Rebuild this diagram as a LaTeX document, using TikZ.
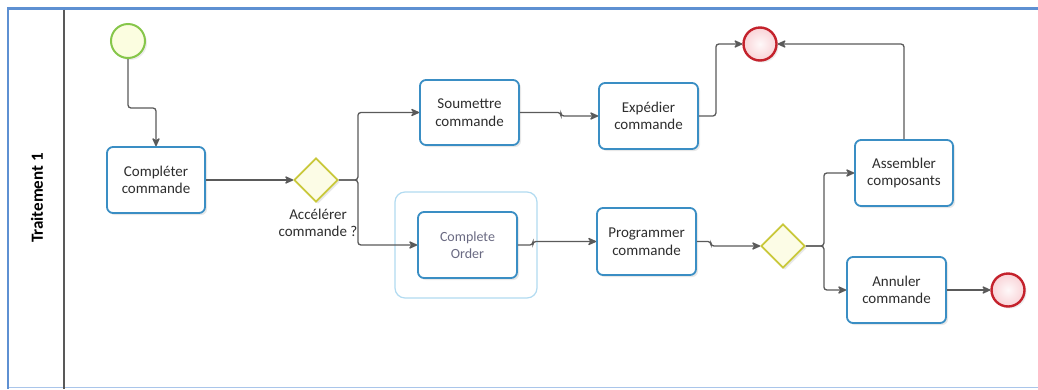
\documentclass[tikz,border=0pt]{standalone}
\usepackage{fontspec}
\setmainfont{Carlito}
\usetikzlibrary{shapes.geometric,arrows.meta,shadows}

\definecolor{taskblue}{HTML}{3A8EC4}
\definecolor{groupblue}{HTML}{B2DBF1}
\definecolor{gwline}{HTML}{C9C83A}
\definecolor{gwfill}{HTML}{FCFCE6}
\definecolor{startline}{HTML}{86C64A}
\definecolor{startfill}{HTML}{FBFDE0}
\definecolor{endline}{HTML}{C4222C}
\definecolor{endfill}{HTML}{F9D3D7}
\definecolor{flowgray}{HTML}{5A5A5A}
\definecolor{poolblue}{HTML}{5E90D2}
\definecolor{poolbottom}{HTML}{A9C5EA}
\definecolor{textgray}{HTML}{2E2E2E}
\definecolor{ordertext}{HTML}{6A6A82}

\tikzset{
  task/.style={draw=taskblue, line width=1.8pt, fill=white, rounded corners=6pt,
    minimum width=99pt, minimum height=66pt, align=center, text=textgray,
    font=\fontsize{15}{17.5}\selectfont,
    drop shadow={opacity=0.18, shadow xshift=2pt, shadow yshift=-2pt}},
  gateway/.style={diamond, draw=gwline, line width=1.8pt, fill=gwfill,
    minimum width=44pt, minimum height=44pt, inner sep=0pt,
    drop shadow={opacity=0.18, shadow xshift=2pt, shadow yshift=-2pt}},
  startev/.style={circle, draw=startline, line width=2pt, fill=startfill,
    minimum size=34pt, inner sep=0pt,
    drop shadow={opacity=0.15, shadow xshift=2pt, shadow yshift=-2pt}},
  endev/.style={circle, draw=endline, line width=2.4pt,
    inner color=white!85!endfill, outer color=endfill,
    minimum size=33pt, inner sep=0pt,
    drop shadow={opacity=0.15, shadow xshift=2pt, shadow yshift=-2pt}},
  grouped/.style={draw=groupblue, line width=1.2pt, rounded corners=10pt,
    minimum width=142pt, minimum height=106pt},
  flow/.style={draw=flowgray, line width=1.3pt, rounded corners=3pt,
    -{Stealth[length=10pt,width=9pt,round]}},
  lbl/.style={align=center, text=textgray, font=\fontsize{15}{17.5}\selectfont},
}

\begin{document}
\begin{tikzpicture}[x=1pt, y=-1pt]
  \useasboundingbox (0,0) rectangle (1038,389);

  % pool frame and lane header
  \fill[white] (0,0) rectangle (1038,389);
  \draw[poolbottom, line width=1.6pt] (8,387.5) -- (1038,387.5);
  \draw[poolblue, line width=2.6pt] (1038,8.5) -- (8,8.5) -- (8,389);
  \draw[gray!70!black, line width=1.6pt] (64,9.5) -- (64,389);
  \node[rotate=90, text=black, font=\fontsize{17}{20}\selectfont\bfseries] (lane) at (37,198) {Traitement 1};

  % events
  \node[startev] (start) at (128,41) {};
  \node[endev] (end1) at (760,44) {};
  \node[endev] (end2) at (1008,290) {};

  % group around the sub-process
  \node[grouped] (grp) at (466,245) {};

  % tasks
  \node[task, minimum width=98pt] (comp) at (156,180) {Compléter\\commande};
  \node[task, minimum height=65pt] (soum) at (469.5,112.5) {Soumettre\\commande};
  \node[task, text=ordertext, font=\fontsize{14}{17}\selectfont] (co) at (467.5,245) {Complete\\Order};
  \node[task] (exp) at (648.5,116) {Expédier\\commande};
  \node[task, minimum height=67pt] (prog) at (646.5,241.5) {Programmer\\commande};
  \node[task, minimum width=98pt] (asm) at (904,173) {Assembler\\composants};
  \node[task] (ann) at (896.5,290) {Annuler\\commande};

  % gateways
  \node[gateway] (gw1) at (316,180) {};
  \node[gateway] (gw2) at (783,246) {};
  \node[lbl] (gw1lbl) at (318,223) {Accélérer\\commande ?};

  % sequence flows
  \draw[flow] (start.south) -- ++(0,49) -| (comp.north);
  \draw[flow] (comp.east) -- (gw1.west);
  \draw[flow] (gw1.east) -- ++(19,0) |- (soum.west);
  \draw[flow] (gw1.east) -- ++(19,0) |- (co.west);
  \draw[flow] (soum.east) -- ++(41,0) |- (exp.west);
  \draw[flow] (exp.east) -- ++(17,0) |- (end1.west);
  \draw[flow] (asm.north) |- (end1.east);
  \draw[flow] (co.east) -- ++(15,0) |- (prog.west);
  \draw[flow] (prog.east) -- ++(14,0) |- (gw2.west);
  \draw[flow] (gw2.east) -- ++(18,0) |- (asm.west);
  \draw[flow] (gw2.east) -- ++(18,0) |- (ann.west);
  \draw[flow] (ann.east) -- (end2.west);
\end{tikzpicture}
\end{document}
